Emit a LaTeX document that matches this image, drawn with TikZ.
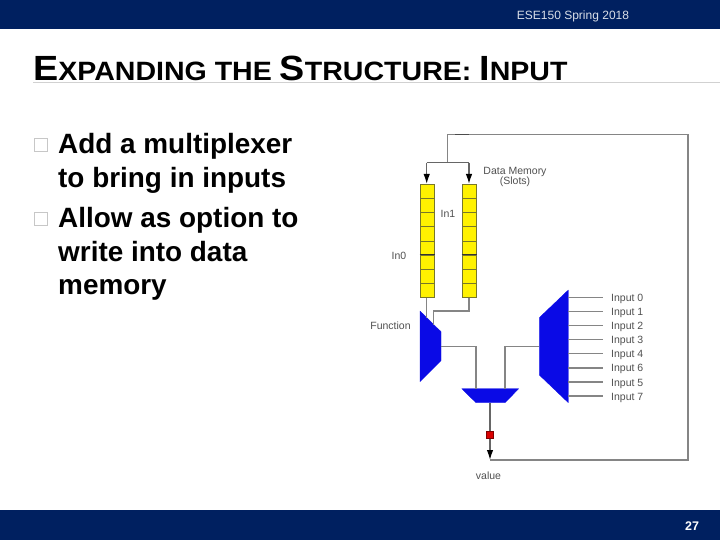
\documentclass[tikz,border=0pt]{standalone}
\usepackage{fontspec}
\setmainfont{Liberation Sans}
\usetikzlibrary{arrows.meta}
\definecolor{band}{HTML}{002060}
\definecolor{wiregray}{HTML}{858585}
\definecolor{labelgray}{HTML}{505050}
\definecolor{cellyellow}{HTML}{FFF200}
\definecolor{cellline}{HTML}{77772A}
\definecolor{muxblue}{HTML}{0A0AE6}
\tikzset{
  bandbox/.style={fill=band,draw=none,minimum width=720pt,inner sep=0pt,anchor=north west},
  cellbox/.style={draw=cellline,fill=cellyellow,line width=.8pt,minimum width=14.3pt,minimum height=14.16pt,inner sep=0pt,anchor=north west},
  wire/.style={draw=wiregray,line width=1.3pt},
  thinwire/.style={draw=wiregray,line width=1.1pt},
  thickwire/.style={draw=wiregray,line width=1.8pt},
  arrowwire/.style={draw=black!60,line width=1.4pt,-{Latex[black,length=10pt,width=6.5pt]}},
  muxshape/.style={fill=muxblue,draw=muxblue,line width=.3pt,line join=round},
  smalllabel/.style={text=labelgray,font=\fontsize{10.5}{11.5}\selectfont,inner sep=0pt},
  inputlabel/.style={smalllabel,anchor=west},
  bodytext/.style={font=\fontsize{27.9}{33.6}\bfseries\selectfont,text=black,inner sep=0pt,anchor=north west,align=left},
  bulletbox/.style={draw=black!22,line width=.9pt,fill=white,minimum width=13pt,minimum height=13pt,inner sep=0pt}
}
\begin{document}
\begin{tikzpicture}[x=1pt,y=-1pt]
\useasboundingbox (0,0) rectangle (720,540);
% bands
\node[bandbox,minimum height=29pt] (topband) at (0,0) {};
\node[bandbox,minimum height=30pt] (botband) at (0,510) {};
\node[text=white!85!band,font=\fontsize{12}{13}\selectfont,inner sep=0pt] (hdr) at (573,16.5) {ESE150 Spring 2018};
\node[text=white,font=\fontsize{12.5}{14}\bfseries\selectfont,inner sep=0pt] (pg) at (692,526.5) {27};
% title
\coordinate (ruleL) at (33,82.5);
\coordinate (ruleR) at (720,82.5);
\draw[draw=black!18,line width=1.1pt] (ruleL) -- (ruleR);
\node[anchor=base west,inner sep=0pt,text=black] (title) at (33,81) {\scalebox{1.077}[1]{\bfseries\fontsize{35}{40}\selectfont E\fontsize{26.5}{40}\selectfont XPANDING THE \fontsize{35}{40}\selectfont S\fontsize{26.5}{40}\selectfont TRUCTURE: \fontsize{35}{40}\selectfont I\fontsize{26.5}{40}\selectfont NPUT}};
% bullets
\node[bulletbox] (b1) at (40.5,145) {};
\node[bulletbox] (b2) at (40.5,218.5) {};
\node[bodytext] (t1) at (58,133.5) {Add a multiplexer\\to bring in inputs};
\node[bodytext] (t2) at (58,207) {Allow as option to\\write into data\\memory};
% registers
\foreach \i in {0,...,7}{
  \node[cellbox] (la\i) at (419.7,{184+\i*14.16}) {};
  \node[cellbox] (ra\i) at (461.7,{184+\i*14.16}) {};
}
\draw[draw=black!80,line width=1.2pt] (la5.north west) -- (la5.north east);
\draw[draw=black!80,line width=1.2pt] (ra5.north west) -- (ra5.north east);
% muxes
\coordinate (fa) at (420,311);\coordinate (fb) at (441,331.7);\coordinate (fc) at (441,360.7);\coordinate (fd) at (420,381.7);
\fill[muxshape] (fa)--(fb)--(fc)--(fd)--cycle;
\coordinate (ia) at (568.3,290);\coordinate (ib) at (539.3,317.7);\coordinate (ic) at (539.3,375);\coordinate (id) at (568.3,402.7);
\fill[muxshape] (ia)--(ib)--(ic)--(id)--cycle;
\coordinate (oa) at (461.7,388.7);\coordinate (ob) at (518.7,388.7);\coordinate (oc) at (505,402.7);\coordinate (od) at (476,402.7);
\fill[muxshape] (oa)--(ob)--(oc)--(od)--cycle;
% red latch
\node[fill=red!85!black,draw=red!50!black,line width=.4pt,minimum size=7pt,inner sep=0pt] (latch) at (490,435) {};
% feedback
\coordinate (outmid) at (490,403);
\coordinate (corner1) at (688,460);
\coordinate (corner2) at (688,134.7);
\coordinate (corner3) at (447.7,134.7);
\coordinate (branch) at (447.7,162.7);
\coordinate (bl) at (426.7,162.7);
\coordinate (br) at (469,162.7);
\coordinate (tip) at (490,460);
\coordinate (tickA) at (455,134.7);
\coordinate (tickB) at (468.5,134.7);
\draw[draw=black!60,line width=1.7pt] (outmid) -- (latch);
\draw[arrowwire] (latch) -- (tip);
\draw[wire] (tip) -- (corner1) -- (corner2) -- (corner3) -- (branch);
\draw[draw=black!70,line width=1.3pt] (tickA) -- (tickB);
\draw[draw=black!60,line width=1.3pt] (bl) -- (br);
\draw[arrowwire] (bl) -- (bl |- la0.north);
\draw[arrowwire] (br) -- (br |- ra0.north);
% wires from registers to function mux
\coordinate (lm) at (426.7,318);
\draw[wire] (la7.south -| lm) -- (lm);
\coordinate (rk) at (469,311);
\coordinate (rk2) at (433.3,311);
\coordinate (rk3) at (433.3,325);
\draw[thinwire] (ra7.south -| rk) -- (rk) -- (rk2) -- (rk3);
% mux to mux
\coordinate (f1) at (441,346.5);\coordinate (f2) at (476,346.5);\coordinate (f3) at (476,388.7);
\coordinate (i1) at (539.3,346.5);\coordinate (i2) at (504.7,346.5);\coordinate (i3) at (504.7,388.7);
\draw[thickwire] (f1)--(f2)--(f3);
\draw[thickwire] (i1)--(i2)--(i3);
% input lines and labels
\foreach \n/\lab/\y/\ly in {0/Input 0/297.3/299,1/Input 1/311.3/313.2,2/Input 2/325.3/327.2,3/Input 3/339.5/341.2,4/Input 4/353.7/355.2,5/Input 6/367.9/369.2,6/Input 5/382/383.7,7/Input 7/396/398}{
  \node[inputlabel] (inl\n) at (611,\ly) {\lab};
  \coordinate (ins\n) at (568.3,\y);
  \coordinate (ine\n) at (603,\y);
  \draw[wire] (ins\n) -- (ine\n);
}
% labels
\node[smalllabel,align=center] (dm) at (515,176.5) {Data Memory\\[-1.5pt](Slots)};
\node[smalllabel] (in1) at (448,213.5) {In1};
\node[smalllabel] (in0) at (399,255.5) {In0};
\node[smalllabel] (fn) at (390.5,326) {Function};
\node[smalllabel] (val) at (488.5,475.5) {value};
\end{tikzpicture}
\end{document}
